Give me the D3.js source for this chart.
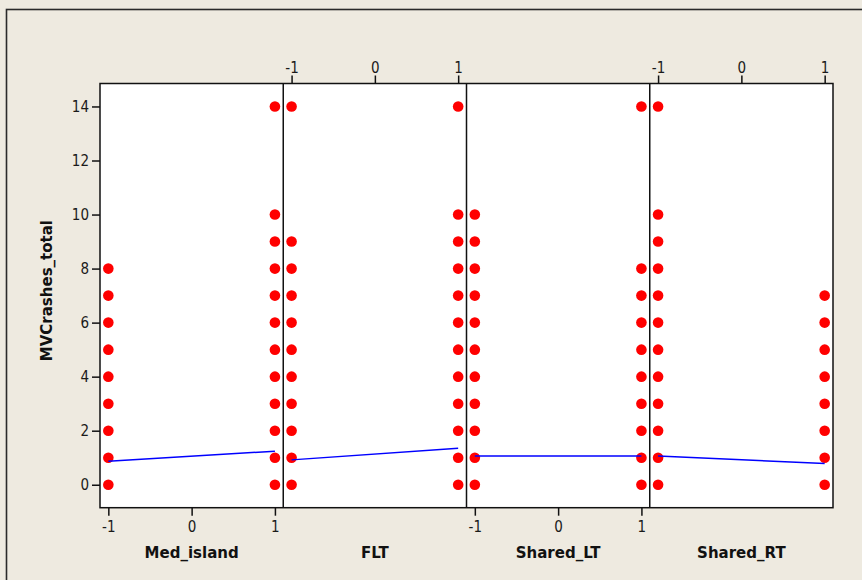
<!DOCTYPE html>
<html>
<head>
<meta charset="utf-8">
<script src="https://cdn.jsdelivr.net/npm/d3@7"></script>
<style>
  html, body { margin: 0; padding: 0; background: #EEEAE0; }
  svg { display: block; }
  .tick text { font-family: "DejaVu Sans Condensed", "DejaVu Sans", sans-serif; font-size: 15px; fill: #1a1a1a; }
  .ttl { font-family: "DejaVu Sans", sans-serif; font-weight: bold; font-size: 15px; fill: #111; }
</style>
</head>
<body>
<script>
// ---- data ----
const categories = ["Med_island", "FLT", "Shared_LT", "Shared_RT"];
const xLevels = [-1, 1];
// MVCrashes_total values observed at level -1 for each factor
const crashesAtLow = [
  [0, 1, 2, 3, 4, 5, 6, 7, 8],
  [0, 1, 2, 3, 4, 5, 6, 7, 8, 9, 14],
  [0, 1, 2, 3, 4, 5, 6, 7, 8, 9, 10],
  [0, 1, 2, 3, 4, 5, 6, 7, 8, 9, 10, 14]
];
// MVCrashes_total values observed at level +1 for each factor
const crashesAtHigh = [
  [0, 1, 2, 3, 4, 5, 6, 7, 8, 9, 10, 14],
  [0, 1, 2, 3, 4, 5, 6, 7, 8, 9, 10, 14],
  [0, 1, 2, 3, 4, 5, 6, 7, 8, 14],
  [0, 1, 2, 3, 4, 5, 6, 7]
];
// fitted mean lines
const meanAtLow = [0.87, 0.92, 1.06, 1.06];
const meanAtHigh = [1.24, 1.35, 1.06, 0.79];
const yTicks = [0, 2, 4, 6, 8, 10, 12, 14];
const xTicks = [-1, 0, 1];
const xTickLabels = ["-1", "0", "1"];
const axisSide = ["bottom", "top", "bottom", "top"];
const yTitle = "MVCrashes_total";

// ---- layout ----
const W = 862, H = 580;
const plot = { left: 100, right: 833, top: 83.5, bottom: 507.7 };

const svg = d3.select("body").append("svg").attr("width", W).attr("height", H);

svg.append("rect").attr("x", 6.5).attr("y", 9.5).attr("width", W + 10).attr("height", H + 10)
  .attr("fill", "#EEEAE0").attr("stroke", "#2a2a2a").attr("stroke-width", 1.6);

const panel = d3.scaleBand().domain(categories).range([plot.left, plot.right]).padding(0);
const y = d3.scaleLinear().domain([-0.85, 14.85]).range([plot.bottom, plot.top]);

svg.append("rect").attr("x", plot.left).attr("y", plot.top)
  .attr("width", plot.right - plot.left).attr("height", plot.bottom - plot.top)
  .attr("fill", "#fff");

// y axis
const yAxis = svg.append("g").attr("transform", `translate(${plot.left},0)`)
  .call(d3.axisLeft(y).tickValues(yTicks).tickSize(8).tickPadding(3).tickSizeOuter(0));
yAxis.select(".domain").remove();
yAxis.selectAll(".tick line").attr("stroke", "#111").attr("stroke-width", 1.5);

svg.append("text").attr("class", "ttl")
  .attr("transform", `translate(52,${(plot.top + plot.bottom) / 2 - 5}) rotate(-90)`)
  .attr("text-anchor", "middle").text(yTitle);

categories.forEach((cat, i) => {
  const x0 = panel(cat), x1 = x0 + panel.bandwidth();
  const x = d3.scaleLinear().domain([-1.1, 1.1]).range([x0, x1]);
  const g = svg.append("g");
  const fmt = d => xTickLabels[xTicks.indexOf(d)];

  // axis
  if (axisSide[i] === "bottom") {
    const ax = g.append("g").attr("transform", `translate(0,${plot.bottom})`)
      .call(d3.axisBottom(x).tickValues(xTicks).tickFormat(fmt).tickSize(8).tickPadding(6).tickSizeOuter(0));
    ax.select(".domain").remove();
    ax.selectAll(".tick line").attr("stroke", "#111").attr("stroke-width", 1.5);
  } else {
    const ax = g.append("g").attr("transform", `translate(0,${plot.top})`)
      .call(d3.axisTop(x).tickValues(xTicks).tickFormat(fmt).tickSize(8).tickPadding(3).tickSizeOuter(0));
    ax.select(".domain").remove();
    ax.selectAll(".tick line").attr("stroke", "#111").attr("stroke-width", 1.5);
  }

  g.append("text").attr("class", "ttl")
    .attr("x", (x0 + x1) / 2).attr("y", plot.bottom + 50)
    .attr("text-anchor", "middle").text(cat);

  // points
  const pts = [];
  crashesAtLow[i].forEach(v => pts.push({ x: xLevels[0], y: v }));
  crashesAtHigh[i].forEach(v => pts.push({ x: xLevels[1], y: v }));
  g.selectAll("circle").data(pts).enter().append("circle")
    .attr("cx", d => x(d.x)).attr("cy", d => y(d.y)).attr("r", 5.3)
    .attr("fill", "#FF0000");

  // mean line
  const line = d3.line().x(d => x(d[0])).y(d => y(d[1]));
  g.append("path").datum([[xLevels[0], meanAtLow[i]], [xLevels[1], meanAtHigh[i]]])
    .attr("d", line).attr("fill", "none").attr("stroke", "#0000FF").attr("stroke-width", 1.5);

  // separator
  if (i > 0) {
    g.append("line").attr("x1", x0).attr("x2", x0).attr("y1", plot.top).attr("y2", plot.bottom)
      .attr("stroke", "#111").attr("stroke-width", 1.5);
  }
});

svg.append("rect").attr("x", plot.left).attr("y", plot.top)
  .attr("width", plot.right - plot.left).attr("height", plot.bottom - plot.top)
  .attr("fill", "none").attr("stroke", "#111").attr("stroke-width", 1.5);
</script>
</body>
</html>
